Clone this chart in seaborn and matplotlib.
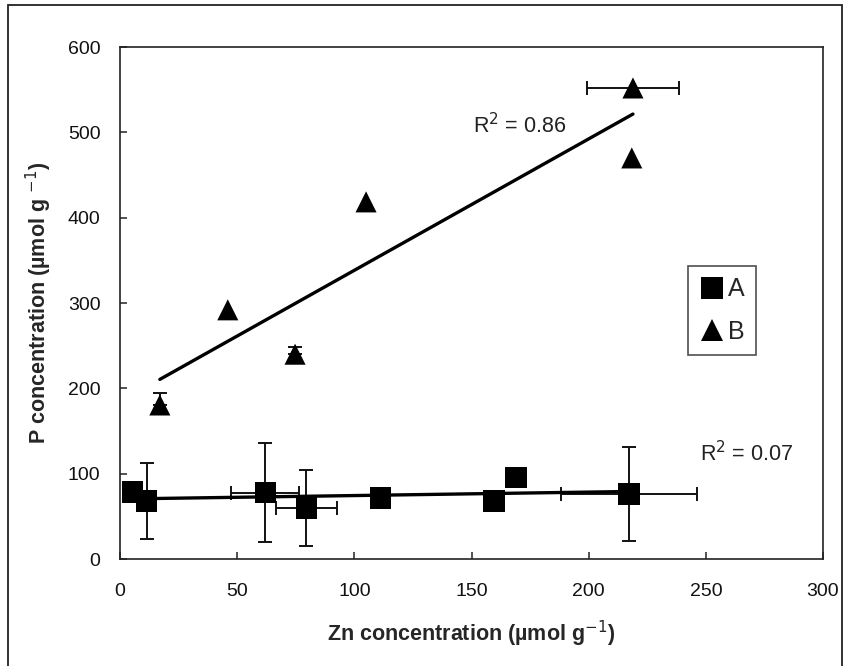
import numpy as np
import pandas as pd
import matplotlib
matplotlib.use("Agg")
import matplotlib.pyplot as plt
from matplotlib.patches import Rectangle
import seaborn as sns

# ---- data ----
a_x = [5.5, 11.5, 62.0, 79.5, 111.0, 159.6, 169.0, 217.2]
a_y = [78.5, 68.0, 77.4, 59.8, 71.5, 68.0, 96.0, 76.2]
a_xerr = [0, 0, 14.6, 13.0, 0, 0, 0, 29.0]
a_yerr_lo = [0, 44.0, 58.0, 45.0, 0, 0, 0, 55.0]
a_yerr_hi = [0, 44.0, 58.0, 45.0, 0, 0, 0, 55.0]

b_x = [17.0, 46.0, 74.7, 105.0, 218.9, 218.4]
b_y = [180.5, 292.0, 240.0, 418.5, 552.0, 470.0]
b_xerr = [0, 0, 0, 0, 19.5, 0]
b_yerr_lo = [0, 0, 0, 0, 0, 0]
b_yerr_hi = [14.5, 0, 8.5, 0, 0, 0]

groups = ["A", "B"]
r2_labels = {"A": "R$^2$ = 0.07", "B": "R$^2$ = 0.86"}
r2_pos = {"A": (247.5, 124), "B": (150.5, 508)}

x_ticks = [0, 50, 100, 150, 200, 250, 300]
y_ticks = [0, 100, 200, 300, 400, 500, 600]

sns.set_theme(style="white")
plt.rcParams["font.family"] = ["Liberation Sans", "DejaVu Sans"]

df = pd.DataFrame({
    "x": a_x + b_x,
    "y": a_y + b_y,
    "xerr": a_xerr + b_xerr,
    "ylo": a_yerr_lo + b_yerr_lo,
    "yhi": a_yerr_hi + b_yerr_hi,
    "group": ["A"] * len(a_x) + ["B"] * len(b_x),
})

fig = plt.figure(figsize=(8.44, 6.66), dpi=100)
ax = fig.add_axes([120 / 844, 1 - 559 / 666, 703 / 844, 512 / 666])

eb_kw = dict(fmt="none", ecolor="#111111", elinewidth=1.4, capsize=4.8,
             capthick=1.4, zorder=2)
# error bars
for g in groups:
    sub = df[df.group == g]
    ye = sub[(sub.ylo > 0) | (sub.yhi > 0)]
    ax.errorbar(ye.x, ye.y, yerr=[ye.ylo, ye.yhi], **eb_kw)
    xe = sub[sub.xerr > 0]
    ax.errorbar(xe.x, xe.y, xerr=xe.xerr, **eb_kw)

# regression lines
for g in groups:
    sub = df[df.group == g]
    sns.regplot(data=sub, x="x", y="y", ax=ax, scatter=False, ci=None,
                truncate=True, color="black", line_kws={"lw": 2.4, "zorder": 3})

# markers
sns.scatterplot(data=df, x="x", y="y", style="group",
                markers={"A": "s", "B": "^"}, color="black", s=230,
                edgecolor="black", linewidth=0, ax=ax, zorder=4)

for g in groups:
    ax.text(*r2_pos[g], r2_labels[g], fontsize=15.5, color="#222222",
            ha="left", va="center")

ax.set_xlim(0, 300)
ax.set_ylim(0, 600)
ax.set_xticks(x_ticks)
ax.set_yticks(y_ticks)
ax.tick_params(direction="in", length=5, width=1.1, color="#222222",
               labelsize=14, labelcolor="#111111")
ax.tick_params(axis="y", pad=14, left=True)
ax.tick_params(axis="x", pad=17.5, bottom=True)
for s in ax.spines.values():
    s.set_color("#222222")
    s.set_linewidth(1.2)

ax.set_xlabel("Zn concentration (µmol g$^{-1}$)", fontsize=15.5,
              fontweight="bold", labelpad=13)
ax.set_ylabel("P concentration (µmol g $^{-1}$)", fontsize=15.5,
              fontweight="bold", labelpad=10)

leg = ax.legend(loc="upper left", bbox_to_anchor=(0.808, 0.572),
                frameon=True, fancybox=False, fontsize=18,
                handletextpad=0.15, borderpad=0.45, labelspacing=0.75,
                handlelength=1.0, borderaxespad=0)
leg.get_frame().set_edgecolor("#222222")
leg.get_frame().set_linewidth(1.2)

fig.patches.append(Rectangle((8 / 844, -0.02), (842 - 8) / 844,
                             1 - 5 / 666 + 0.02, transform=fig.transFigure,
                             fill=False, edgecolor="#222222", linewidth=1.3))

fig.savefig("out.png", dpi=100)
